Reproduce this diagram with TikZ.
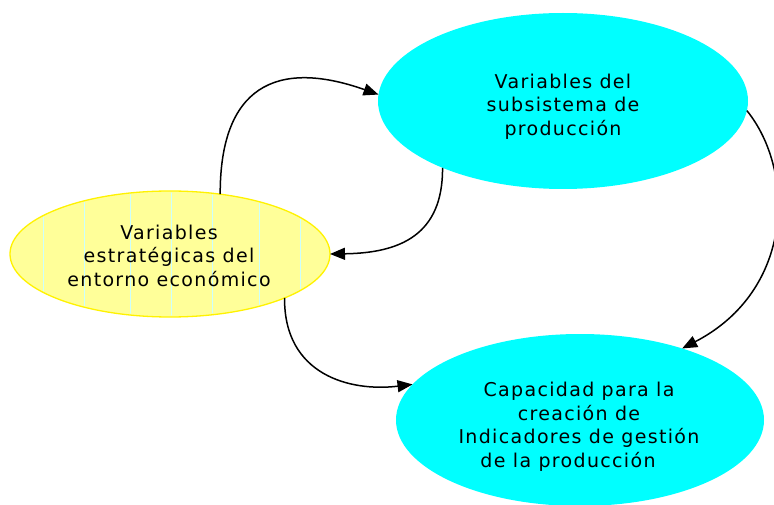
\documentclass[tikz,border=0pt]{standalone}
\usepackage{fontspec}
\usetikzlibrary{shapes.geometric,arrows.meta}
\newfontfamily\vfont[LetterSpace=7]{DejaVu Sans}
\definecolor{ycol}{HTML}{FFFF99}
\definecolor{cyanc}{HTML}{00FFFF}
\definecolor{stripec}{HTML}{CCFFFF}
\begin{document}
\begin{tikzpicture}[x=1pt,y=-1pt,
  ell/.style={ellipse,inner sep=0pt,outer sep=0pt},
  lbl/.style={align=center,font=\vfont\fontsize{19pt}{23.5pt}\selectfont,inner sep=0pt},
  arr/.style={line width=1.5pt,-{Triangle[length=15pt,width=12pt]}}]
\useasboundingbox (0,0) rectangle (774,505);
\node[ell,fill=cyanc,minimum width=370pt,minimum height=176pt] (top) at (563,101) {};
\node[ell,fill=cyanc,minimum width=368pt,minimum height=172pt] (bot) at (580,420) {};
\node[ell,fill=ycol,draw=yellow,line width=1.3pt,minimum width=320pt,minimum height=126pt] (yel) at (170,254) {};
\begin{scope}
  \clip (170,254) ellipse [x radius=158.5pt, y radius=61.5pt];
  \foreach \x in {43,84,130,171,212,259,300}
    \draw[stripec,line width=0.8pt] (\x,180) -- (\x,330);
\end{scope}
\node[lbl] (ttop) at (563,106.5) {Variables del\\subsistema de\\producción};
\node[lbl] (tbot) at (579,427) {Capacidad para la\\creación de\\Indicadores de gestión\\de la producción\hspace*{22pt}};
\node[lbl] (tyel) at (169,255.5) {Variables\\estratégicas del\\entorno económico};
\draw[arr] (yel.50) .. controls (220,88) and (275,58) .. (top.178);
\draw[arr] (top.209.5) .. controls (443,235) and (400,253) .. (yel.east);
\draw[arr] (yel.339) .. controls (284,375) and (350,392) .. (bot.168);
\draw[arr] (top.357) .. controls (795,170) and (795,290) .. (bot.35);
\end{tikzpicture}
\end{document}
